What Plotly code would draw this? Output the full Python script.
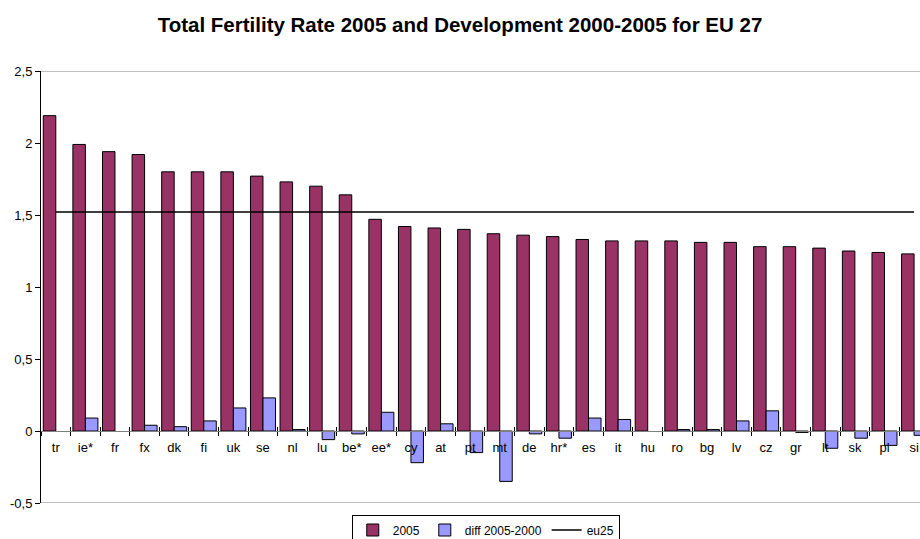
import plotly.graph_objects as go

# Country codes in ranked order of 2005 total fertility rate
countries = ["tr", "ie*", "fr", "fx", "dk", "fi", "uk", "se", "nl", "lu",
             "be*", "ee*", "cy", "at", "pt", "mt", "de", "hr*", "es", "it",
             "hu", "ro", "bg", "lv", "cz", "gr", "lt", "sk", "pl", "si"]

# Total fertility rate in 2005
tfr_2005 = [2.19, 1.99, 1.94, 1.92, 1.80, 1.80, 1.80, 1.77, 1.73, 1.70,
            1.64, 1.47, 1.42, 1.41, 1.40, 1.37, 1.36, 1.35, 1.33, 1.32,
            1.32, 1.32, 1.31, 1.31, 1.28, 1.28, 1.27, 1.25, 1.24, 1.23]

# Change 2000 -> 2005 (None where no 2000 value is available)
diff_2005_2000 = [None, 0.09, None, 0.04, 0.03, 0.07, 0.16, 0.23, 0.01, -0.06,
                  -0.02, 0.13, -0.22, 0.05, -0.15, -0.35, -0.02, -0.05, 0.09, 0.08,
                  None, 0.01, 0.01, 0.07, 0.14, -0.01, -0.12, -0.05, -0.10, -0.03]

# EU-25 average TFR, drawn as a reference line
eu25_tfr = 1.52
eu25 = [eu25_tfr for _ in countries]

y_ticks = [-0.5, 0, 0.5, 1, 1.5, 2, 2.5]
y_tick_text = ["-0,5", "0", "0,5", "1", "1,5", "2", "2,5"]

FONT = "Arial, Liberation Sans, sans-serif"

fig = go.Figure()
fig.add_trace(go.Bar(
    x=countries, y=tfr_2005, name="2005",
    marker=dict(color="#993366", line=dict(color="#000000", width=1)),
))
fig.add_trace(go.Bar(
    x=countries, y=diff_2005_2000, name="diff 2005-2000",
    marker=dict(color="#9999FF", line=dict(color="#000000", width=1)),
))
fig.add_trace(go.Scatter(
    x=countries, y=eu25, name="eu25", mode="lines",
    line=dict(color="#000000", width=1.5),
))
# invisible trace to carry the secondary (cross-tick) category axis
fig.add_trace(go.Scatter(
    x=countries, y=[None] * len(countries), xaxis="x2", showlegend=False,
    hoverinfo="skip",
))

y_lo, y_hi = -0.5, 2.5
zero_pos = (0 - y_lo) / (y_hi - y_lo)
x_range = [-0.5, 29.2]

fig.update_layout(
    width=920, height=539,
    margin=dict(l=41, r=0, t=71, b=36, autoexpand=False),
    paper_bgcolor="white", plot_bgcolor="white",
    font=dict(family=FONT, size=13, color="#000000"),
    title=dict(
        text="<b>Total Fertility Rate 2005 and Development 2000-2005 for EU 27</b>",
        x=0.5, xref="container", xanchor="center",
        y=1 - 25 / 539, yref="container", yanchor="middle",
        font=dict(family=FONT, size=20.5, color="#000000"),
    ),
    barmode="group", bargap=0.155, bargroupgap=0,
    showlegend=True,
    legend=dict(
        orientation="h", x=0.506, xanchor="center", y=-0.0625, yanchor="middle",
        bordercolor="#000000", borderwidth=1, bgcolor="white",
        font=dict(family=FONT, size=12),
        itemwidth=30, tracegroupgap=0,
    ),
    xaxis=dict(
        type="category", range=x_range,
        anchor="free", position=zero_pos,
        showline=True, linecolor="#808080", linewidth=1,
        ticks="outside", ticklen=4, tickcolor="#000000", tickson="boundaries",
        showgrid=False, zeroline=False,
        tickfont=dict(family=FONT, size=13),
        ticklabelstandoff=4,
    ),
    xaxis2=dict(
        type="category", range=x_range, overlaying="x",
        anchor="free", position=zero_pos, side="bottom",
        showline=False, ticks="inside", ticklen=4, tickcolor="#000000",
        tickson="boundaries", showticklabels=False, showgrid=False, zeroline=False,
    ),
    yaxis=dict(
        range=[y_lo, y_hi], tickvals=y_ticks, ticktext=y_tick_text,
        showline=True, linecolor="#000000", linewidth=1,
        ticks="outside", ticklen=5, tickcolor="#000000",
        showgrid=False, zeroline=False,
        tickfont=dict(family=FONT, size=13),
    ),
    shapes=[
        dict(type="line", xref="paper", yref="y", x0=0, x1=1, y0=y_hi, y1=y_hi,
             line=dict(color="#808080", width=1), layer="below"),
        dict(type="line", xref="paper", yref="y", x0=0, x1=1, y0=y_lo, y1=y_lo,
             line=dict(color="#808080", width=1), layer="below"),
    ],
)

fig.write_html("out.html")
